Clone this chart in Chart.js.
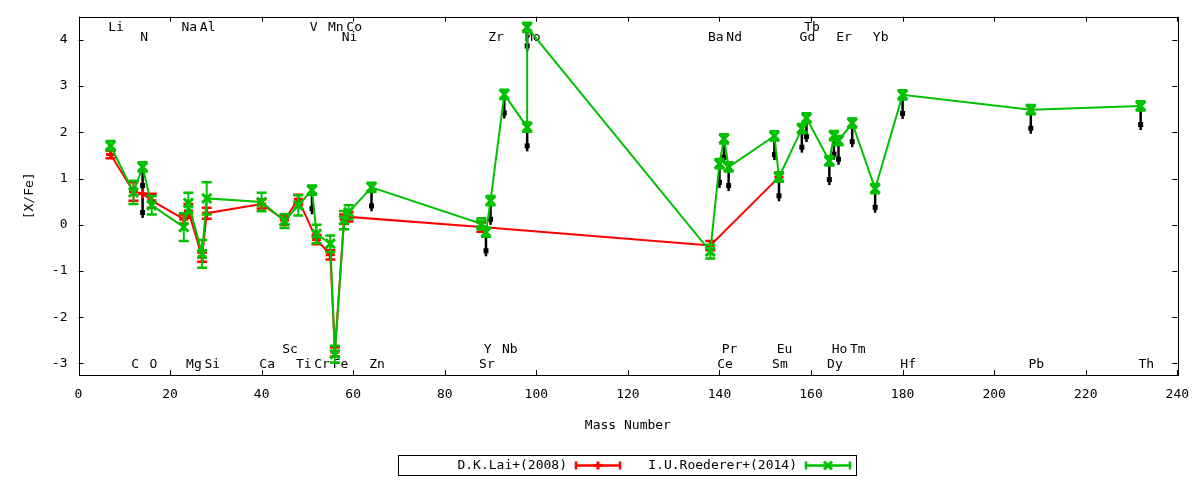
<!DOCTYPE html>
<html>
<head>
<meta charset="utf-8">
<script src="https://cdn.jsdelivr.net/npm/chart.js@4.4.1/dist/chart.umd.min.js"></script>
<style>
  html, body { margin: 0; padding: 0; background: #fff; }
  #wrap { width: 1200px; height: 480px; }
</style>
</head>
<body>
<div id="wrap"><canvas id="abundChart" width="1200" height="480"></canvas></div>
<script>
// D.K.Lai+(2008)
let laiMass  = [7, 12, 14, 16, 23, 24, 27, 28, 40, 45, 48, 52, 55, 56, 58, 59, 88, 138, 153];
let laiValue = [1.52, 0.72, 0.67, 0.52, 0.12, 0.3, -0.7, 0.25, 0.45, 0.1, 0.55, -0.32, -0.65, -2.75, 0.12, 0.17, -0.05, -0.45, 1.03];
let laiError = [0.08, 0.2, 0, 0.15, 0.1, 0.15, 0.1, 0.12, 0.1, 0.1, 0.1, 0.1, 0.1, 0.1, 0.1, 0.1, 0.1, 0.1, 0.1];
let laiLimit = [0, 0, 1, 0, 0, 0, 0, 0, 0, 0, 0, 0, 0, 0, 0, 0, 0, 0, 0];

// I.U.Roederer+(2014)
let roeMass  = [7, 12, 14, 16, 23, 24, 27, 28, 40, 45, 48, 51, 52, 55, 56, 58, 59, 64, 88, 89, 90, 93, 98, 98,
                138, 140, 141, 142, 152, 153, 158, 159, 164, 165, 166, 169, 174, 180, 208, 232];
let roeValue = [1.71, 0.7, 1.25, 0.42, -0.05, 0.47, -0.63, 0.57, 0.49, 0.08, 0.42, 0.75, -0.2, -0.41, -2.8, 0.1, 0.27, 0.81, 0.02, -0.16, 0.52, 2.82, 2.11, 4.27,
                -0.58, 1.32, 1.86, 1.25, 1.92, 1.03, 2.08, 2.31, 1.38, 1.93, 1.82, 2.2, 0.78, 2.81, 2.49, 2.57];
let roeError = [0.1, 0.25, 0.1, 0.2, 0.3, 0.22, 0.3, 0.35, 0.2, 0.15, 0.22, 0.1, 0.2, 0.18, 0.18, 0.2, 0.15, 0.1, 0.12, 0.1, 0.1, 0.1, 0.1, 0.1,
                0.15, 0.1, 0.1, 0.1, 0.1, 0.1, 0.1, 0.1, 0.1, 0.1, 0.1, 0.1, 0.1, 0.1, 0.1, 0.1];
let roeLimit = [0, 0, 1, 0, 0, 0, 0, 0, 0, 0, 0, 1, 0, 0, 0, 0, 0, 1, 0, 1, 1, 1, 1, 1,
                0, 1, 1, 1, 1, 1, 1, 1, 1, 1, 1, 1, 1, 1, 1, 1];

// element names along the plot
let elemName = ['Li','C','N','O','Na','Mg','Al','Si','Ca','Sc','Ti','V','Cr','Mn','Fe','Co','Ni','Zn','Sr','Y','Zr','Nb','Mo',
                'Ba','Ce','Pr','Nd','Sm','Eu','Gd','Tb','Dy','Ho','Er','Tm','Yb','Hf','Pb','Th'];
let elemMass = [7, 12, 14, 16, 23, 24, 27, 28, 40, 45, 48, 51, 52, 55, 56, 59, 58, 64, 88, 89, 90, 93, 98,
                138, 140, 141, 142, 152, 153, 158, 159, 164, 165, 166, 169, 174, 180, 208, 232];
let elemRow  = [0, 3, 1, 3, 0, 3, 0, 3, 3, 2, 3, 0, 3, 0, 3, 0, 1, 3, 3, 2, 1, 2, 1,
                1, 3, 2, 1, 3, 2, 1, 0, 3, 2, 1, 2, 1, 3, 3, 3];
let rowLevel = [4.26, 4.04, -2.70, -3.02];

let xTicks = [0, 20, 40, 60, 80, 100, 120, 140, 160, 180, 200, 220, 240];
let yTicks = [-3, -2, -1, 0, 1, 2, 3, 4];
let limitDrop = 0.5;

const FONT = '13px "DejaVu Sans Mono", monospace';

function toPoints(xs, ys) {
    return xs.map((m, i) => ({ x: m, y: ys[i] }));
}

// vertical error bars with caps, drawn right after each dataset
const errorBars = {
    id: 'errorBars',
    afterDatasetDraw(chart, args) {
        let ds = chart.data.datasets[args.index];
        if (!ds.errors) return;
        let ctx = chart.ctx, sx = chart.scales.x, sy = chart.scales.y;
        ctx.save();
        ctx.strokeStyle = ds.borderColor;
        ds.data.forEach(function (p, i) {
            let e = ds.errors[i];
            if (!e) return;
            let x = sx.getPixelForValue(p.x);
            let yLo = sy.getPixelForValue(p.y - e);
            let yHi = sy.getPixelForValue(p.y + e);
            ctx.lineWidth = 2;
            ctx.beginPath();
            ctx.moveTo(x, yLo);
            ctx.lineTo(x, yHi);
            ctx.stroke();
            ctx.lineWidth = 2.5;
            ctx.beginPath();
            ctx.moveTo(x - 5, yLo); ctx.lineTo(x + 5, yLo);
            ctx.moveTo(x - 5, yHi); ctx.lineTo(x + 5, yHi);
            ctx.stroke();
        });
        ctx.restore();
    }
};

// black arrows for upper limits + element labels, under the data
const underlay = {
    id: 'underlay',
    beforeDatasetsDraw(chart) {
        let ctx = chart.ctx, sx = chart.scales.x, sy = chart.scales.y;
        ctx.save();
        ctx.font = FONT;
        ctx.fillStyle = '#000';
        ctx.textAlign = 'left';
        ctx.textBaseline = 'middle';
        elemName.forEach(function (n, i) {
            ctx.fillText(n, sx.getPixelForValue(elemMass[i] - 0.5), sy.getPixelForValue(rowLevel[elemRow[i]]));
        });

        chart.data.datasets.forEach(function (ds) {
            if (!ds.limits) return;
            ds.data.forEach(function (p, i) {
                if (!ds.limits[i]) return;
                let x = sx.getPixelForValue(p.x);
                let y0 = sy.getPixelForValue(p.y);
                let y1 = sy.getPixelForValue(p.y - limitDrop);
                ctx.strokeStyle = '#000';
                ctx.lineWidth = 2.5;
                ctx.beginPath();
                ctx.moveTo(x, y0);
                ctx.lineTo(x, y1 + 1);
                ctx.stroke();
                ctx.fillRect(x - 2.5, y1 - 7, 5, 5);
            });
        });
        ctx.restore();
    },
    afterDraw(chart) {
        let ctx = chart.ctx, a = chart.chartArea, sx = chart.scales.x, sy = chart.scales.y;
        ctx.save();
        ctx.strokeStyle = '#000';
        ctx.lineWidth = 1;
        ctx.strokeRect(Math.round(a.left) + 0.5, Math.round(a.top) + 0.5,
                       Math.round(a.right - a.left), Math.round(a.bottom - a.top));
        ctx.beginPath();
        xTicks.forEach(function (v) {
            let x = Math.round(sx.getPixelForValue(v)) + 0.5;
            ctx.moveTo(x, a.bottom); ctx.lineTo(x, a.bottom - 5);
            ctx.moveTo(x, a.top); ctx.lineTo(x, a.top + 5);
        });
        yTicks.forEach(function (v) {
            let y = Math.round(sy.getPixelForValue(v)) + 0.5;
            ctx.moveTo(a.left, y); ctx.lineTo(a.left + 5, y);
            ctx.moveTo(a.right, y); ctx.lineTo(a.right - 5, y);
        });
        ctx.stroke();

        // gnuplot-like key below the plot
        let boxL = 398, boxR = 856, boxT = 455, boxB = 475;
        ctx.strokeRect(boxL + 0.5, boxT + 0.5, boxR - boxL, boxB - boxT);
        ctx.font = FONT;
        ctx.textAlign = 'right';
        ctx.textBaseline = 'middle';
        let cy = (boxT + boxB) / 2 + 0.5;
        let slots = [567, 797];
        chart.data.datasets.slice().sort((p, q) => p.keyPos - q.keyPos).forEach(function (ds, k) {
            let tx = slots[k];
            ctx.fillStyle = '#000';
            ctx.fillText(ds.label, tx, cy);
            let l = tx + 9, r = tx + 53, m = (l + r) / 2;
            ctx.strokeStyle = ds.borderColor;
            ctx.fillStyle = ds.borderColor;
            ctx.lineWidth = 2.5;
            ctx.beginPath();
            ctx.moveTo(l, cy); ctx.lineTo(r, cy);
            ctx.moveTo(l, cy - 4); ctx.lineTo(l, cy + 4);
            ctx.moveTo(r, cy - 4); ctx.lineTo(r, cy + 4);
            ctx.stroke();
            ctx.lineWidth = 3;
            ctx.beginPath();
            if (ds.pointStyle === 'cross') {
                ctx.moveTo(m - 4, cy); ctx.lineTo(m + 4, cy);
                ctx.moveTo(m, cy - 4); ctx.lineTo(m, cy + 4);
            } else {
                ctx.moveTo(m - 4, cy - 4); ctx.lineTo(m + 4, cy + 4);
                ctx.moveTo(m + 4, cy - 4); ctx.lineTo(m - 4, cy + 4);
            }
            ctx.stroke();
        });
        ctx.restore();
    }
};

new Chart(document.getElementById('abundChart'), {
    type: 'line',
    data: {
        datasets: [
            {
                label: 'D.K.Lai+(2008)',
                data: toPoints(laiMass, laiValue),
                errors: laiError,
                limits: laiLimit,
                keyPos: 0,
                order: 2,
                borderColor: '#ff0000',
                backgroundColor: '#ff0000',
                borderWidth: 2,
                pointStyle: 'cross',
                pointRadius: 4.5,
                pointBorderWidth: 3,
                tension: 0
            },
            {
                label: 'I.U.Roederer+(2014)',
                data: toPoints(roeMass, roeValue),
                errors: roeError,
                limits: roeLimit,
                keyPos: 1,
                order: 1,
                borderColor: '#00c000',
                backgroundColor: '#00c000',
                borderWidth: 2,
                pointStyle: 'crossRot',
                pointRadius: 6.5,
                pointBorderWidth: 3,
                tension: 0
            }
        ]
    },
    options: {
        responsive: false,
        animation: false,
        layout: { padding: { left: 0, right: 22.7, top: 16.7, bottom: 0 } },
        plugins: {
            legend: { display: false },
            tooltip: { enabled: false }
        },
        scales: {
            x: {
                type: 'linear',
                min: 0,
                max: 240,
                afterBuildTicks: s => { s.ticks = xTicks.map(v => ({ value: v })); },
                afterFit: s => { s.height = 105; s.paddingLeft = 0; s.paddingRight = 0; },
                grid: { display: false, drawTicks: false },
                border: { display: false },
                ticks: { color: '#000', font: { family: '"DejaVu Sans Mono", monospace', size: 13 }, padding: 12, maxRotation: 0 },
                title: { display: true, text: 'Mass Number', color: '#000',
                         font: { family: '"DejaVu Sans Mono", monospace', size: 13 }, padding: { top: 0, bottom: 47 } }
            },
            y: {
                type: 'linear',
                min: -3.25,
                max: 4.5,
                afterBuildTicks: s => { s.ticks = yTicks.map(v => ({ value: v })); },
                afterFit: s => { s.width = 78.5; s.paddingTop = 0; s.paddingBottom = 0; },
                grid: { display: false, drawTicks: false },
                border: { display: false },
                ticks: { color: '#000', font: { family: '"DejaVu Sans Mono", monospace', size: 13 }, padding: 11 },
                title: { display: true, text: '[X/Fe]', color: '#000',
                         font: { family: '"DejaVu Sans Mono", monospace', size: 13 }, padding: { top: 22, bottom: 0 } }
            }
        }
    },
    plugins: [errorBars, underlay]
});
</script>
</body>
</html>
